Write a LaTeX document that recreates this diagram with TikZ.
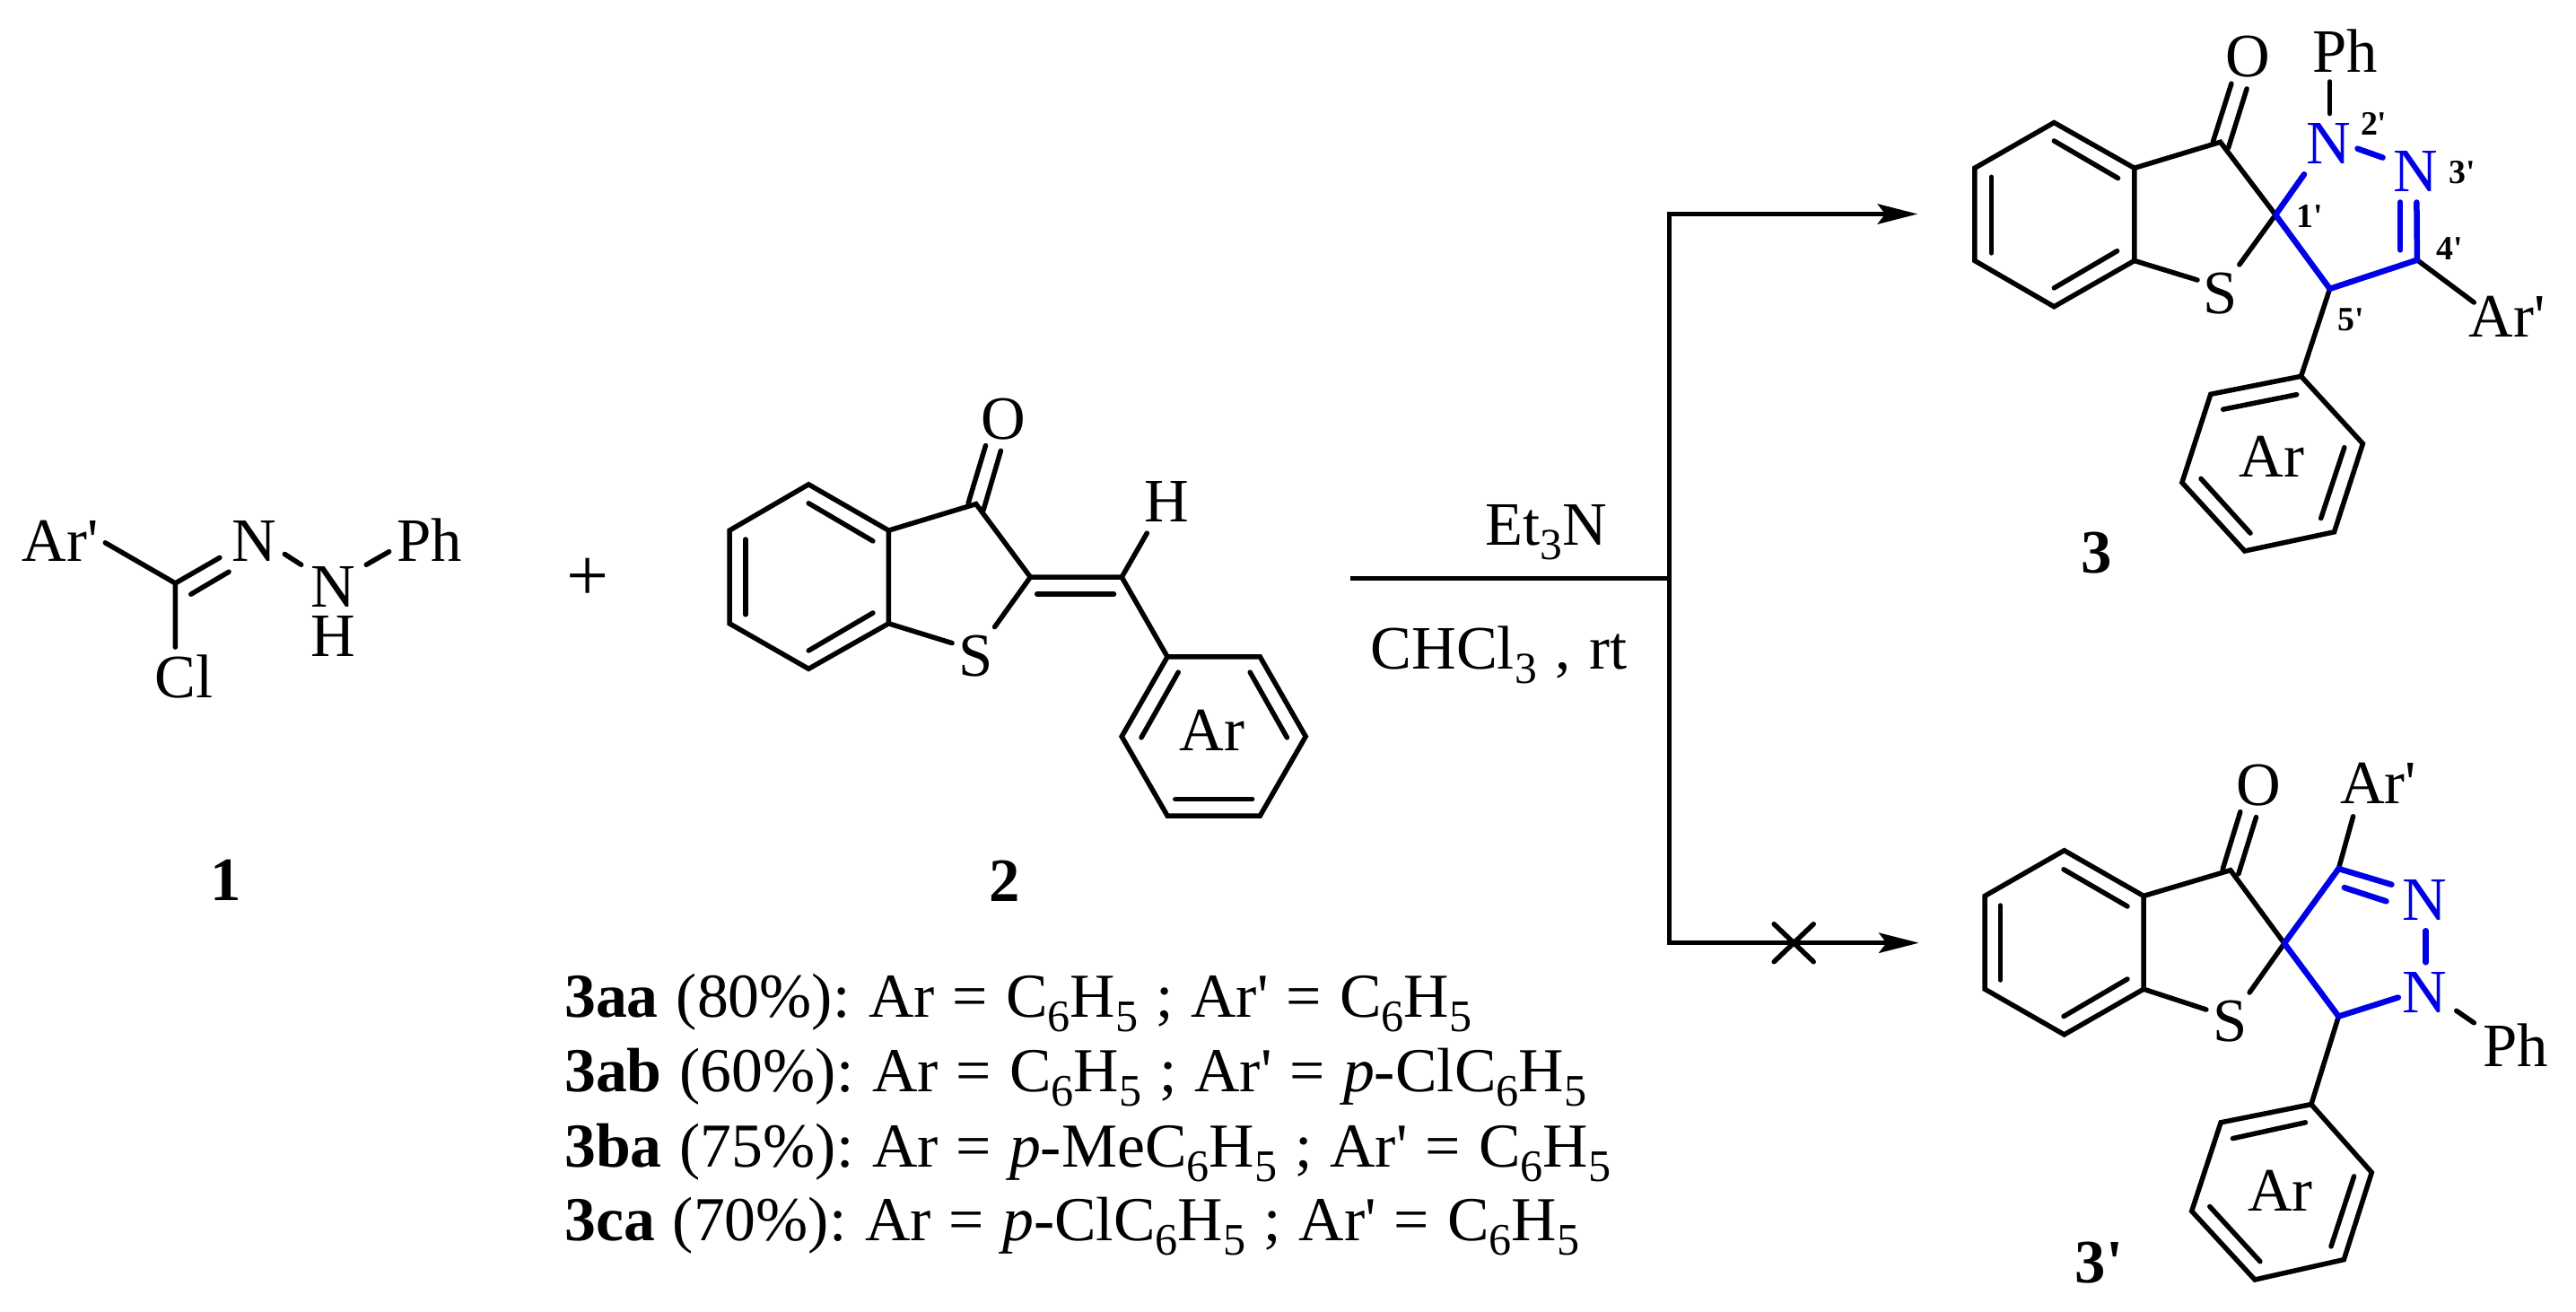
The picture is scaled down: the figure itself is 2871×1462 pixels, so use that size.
\documentclass[tikz,border=0pt]{standalone}
\usepackage{fontspec}
\newfontfamily\lib{Liberation Serif}
\definecolor{bondblue}{HTML}{0000E6}
\newcommand\sbs[1]{\raisebox{-.23em}{\scalebox{.72}{#1}}}
\newcommand\colsp{:\hspace{-5bp} }
\tikzset{
  bond/.style={line width=5.5bp,line cap=round,line join=miter,draw=black},
  bbond/.style={line width=6.5bp,line cap=round,line join=round,draw=bondblue},
  rxn/.style={line width=5bp,line cap=butt,draw=black},
  lab/.style={anchor=base,inner sep=0pt,font=\fontsize{69}{80}\selectfont\lib},
  blab/.style={lab,text=bondblue},
  num/.style={anchor=base,inner sep=0pt,font=\fontsize{38}{42}\selectfont\lib\bfseries},
  cpd/.style={anchor=base,inner sep=0pt,font=\fontsize{69}{80}\selectfont\lib\bfseries},
  lst/.style={anchor=base west,inner sep=0pt,font=\fontsize{70}{80}\selectfont\lib,execute at begin node={\spaceskip=20bp\relax}},
  head/.style={draw=none,fill=black}
}
\begin{document}
\begin{tikzpicture}[x=1bp,y=-1bp]
\useasboundingbox (0,0) rectangle (2871,1462);
% ---------- compound 1
\node[lab] (aArp) at (67.3,625.4) {Ar'};
\node[lab] (aN1) at (283.2,625.4) {N};
\node[lab] (aN2) at (370.9,676) {N};
\node[lab] (aH) at (370.9,731) {H};
\node[lab] (aPh) at (478.6,625.4) {Ph};
\node[lab] (aCl) at (205.1,777.6) {Cl};
\coordinate (aC) at (195.4,649.9);
\coordinate (aA) at (117.3,604.8);
\coordinate (aB) at (195.4,721.1);
\coordinate (aD) at (244.9,621.4);
\coordinate (aE) at (212.8,662.2);
\coordinate (aF) at (255.1,637.2);
\coordinate (aG) at (317.3,617.5);
\coordinate (aI) at (335.7,629.3);
\coordinate (aJ) at (408.2,629.3);
\coordinate (aK) at (433.7,614.7);
\draw[bond] (aA) -- (aC) -- (aB);
\draw[bond] (aC) -- (aD);
\draw[bond] (aE) -- (aF);
\draw[bond] (aG) -- (aI);
\draw[bond] (aJ) -- (aK);
\node[cpd] (cpdA) at (251.5,1003) {1};
\node[anchor=center,inner sep=0pt,font=\fontsize{84}{90}\selectfont\lib] (plus) at (654.6,645.4) {+};
% ---------- compound 2
\coordinate (b1) at (901.2,539.8);
\coordinate (b2) at (813,591.1);
\coordinate (b3) at (813,694.8);
\coordinate (b4) at (901.2,745.3);
\coordinate (b5) at (990.4,694.8);
\coordinate (b6) at (990.4,591.1);
\coordinate (bCO) at (1087.8,561.6);
\coordinate (bC2) at (1148.4,643.1);
\coordinate (bS1) at (1061.1,716.6);
\coordinate (bS2) at (1108.6,698.6);
\coordinate (bCH) at (1250.2,643.1);
\coordinate (bHe) at (1278.3,594.1);
\coordinate (br1) at (1301.1,731.9);
\coordinate (br2) at (1404.3,731.9);
\coordinate (br3) at (1455.2,820.7);
\coordinate (br4) at (1404.3,909.1);
\coordinate (br5) at (1301.1,909.1);
\coordinate (br6) at (1250.2,820.7);
\draw[bond] (b1) -- (b2) -- (b3) -- (b4) -- (b5) -- (b6) -- cycle;
\draw[bond] (b6) -- (bCO) -- (bC2) -- (bS2);
\draw[bond] (b5) -- (bS1);
\draw[bond] (bC2) -- (bCH) -- (bHe);
\draw[bond] (bCH) -- (br1);
\draw[bond] (br1) -- (br2) -- (br3) -- (br4) -- (br5) -- (br6) -- cycle;
\draw[bond] (830.9,601) -- (830.9,684.8);
\draw[bond] (901.2,560.8) -- (972.9,602.9);
\draw[bond] (901.2,725) -- (972.9,683);
\draw[bond] (1079.1,560.8) -- (1098.5,496.5);
\draw[bond] (1096,568.5) -- (1115.4,502.3);
\draw[bond] (1155.7,661.9) -- (1241.5,661.9);
\draw[bond] (1313.2,749.1) -- (1272,821.9);
\draw[bond] (1393.2,749.1) -- (1434.4,821.9);
\draw[bond] (1309.8,890.7) -- (1395.6,890.7);
\node[lab] (bO) at (1118.3,489) {O};
\node[lab] (bS) at (1087.8,753) {S};
\node[lab] (bH) at (1300.1,581) {H};
\node[lab] (bAr) at (1351,836) {Ar};
\node[cpd] (cpdB) at (1119.3,1004) {2};
% ---------- reaction arrows
\coordinate (rS) at (1504.6,644.9);
\coordinate (rJ) at (1860.4,644.9);
\coordinate (rT) at (1860.4,238.5);
\coordinate (rB) at (1860.4,1050.7);
\coordinate (rTe) at (2137.1,238.5);
\coordinate (rBe) at (2138.5,1050.7);
\draw[rxn] (rS) -- (rJ);
\draw[rxn,line join=miter] (rTe) ++(-25,0) -- (rT) -- (rB) -- ++(255,0);
\fill[head] (rTe) -- ++(-45,-11.5) -- ++(9,11.5) -- ++(-9,11.5) -- cycle;
\fill[head] (rBe) -- ++(-45,-11.5) -- ++(9,11.5) -- ++(-9,11.5) -- cycle;
\coordinate (xC) at (1999.2,1050.7);
\draw[bond] (xC) ++(-22,-21) -- ++(44,42);
\draw[bond] (xC) ++(22,-21) -- ++(-44,42);
\node[lab] (et) at (1723.3,607.6) {Et\sbs{3}N};
\node[lab] (chcl) at (1670.8,745.3) {\spaceskip=21bp\relax CHCl\sbs{3} , rt};
% ---------- list
\node[lst] (l1) at (629,1133) {\textbf{3aa} (80\%)\colsp Ar = C\sbs{6}H\sbs{5} ; Ar' = C\sbs{6}H\sbs{5}};
\node[lst] (l2) at (629,1216.7) {\textbf{3ab} (60\%)\colsp Ar = C\sbs{6}H\sbs{5} ; Ar' = \textit{p}-ClC\sbs{6}H\sbs{5}};
\node[lst] (l3) at (629,1300) {\textbf{3ba} (75\%)\colsp Ar = \textit{p}-MeC\sbs{6}H\sbs{5} ; Ar' = C\sbs{6}H\sbs{5}};
\node[lst] (l4) at (629,1382.7) {\textbf{3ca} (70\%)\colsp Ar = \textit{p}-ClC\sbs{6}H\sbs{5} ; Ar' = C\sbs{6}H\sbs{5}};
% ---------- compound 3
\coordinate (c1) at (2289.3,136.6);
\coordinate (c2) at (2200.8,187.3);
\coordinate (c3) at (2200.8,290.5);
\coordinate (c4) at (2289.3,341.7);
\coordinate (c5) at (2378.8,290.5);
\coordinate (c6) at (2378.8,187.3);
\coordinate (cCO) at (2474.6,158.3);
\coordinate (cSp) at (2536.1,239.4);
\coordinate (cS1) at (2449,312);
\coordinate (cS2) at (2495.8,294.9);
\coordinate (cN2) at (2568,194.3);
\coordinate (cC4) at (2693.9,289.7);
\coordinate (cC5) at (2596.6,321.8);
\coordinate (cAe) at (2757.3,337);
\coordinate (cr1) at (2564.6,419.3);
\coordinate (cr2) at (2463.8,439.3);
\coordinate (cr3) at (2431.9,537.7);
\coordinate (cr4) at (2501.7,614);
\coordinate (cr5) at (2601.5,592.8);
\coordinate (cr6) at (2633.4,494.4);
\draw[bond] (c1) -- (c2) -- (c3) -- (c4) -- (c5) -- (c6) -- cycle;
\draw[bond] (c6) -- (cCO) -- (cSp) -- (cS2);
\draw[bond] (c5) -- (cS1);
\draw[bond] (2219.5,197.3) -- (2219.5,281.9);
\draw[bond] (2289.3,157) -- (2360.6,198.6);
\draw[bond] (2289.3,320.9) -- (2359.6,279.7);
\draw[bond] (2466.3,158.3) -- (2486.9,93.2);
\draw[bond] (2483.5,164.8) -- (2504.1,98.9);
\draw[bond] (2596.6,91) -- (2596.6,126.6);
\draw[bond] (cC4) -- (cAe);
\draw[bond] (cC5) -- (cr1);
\draw[bond] (cr1) -- (cr2) -- (cr3) -- (cr4) -- (cr5) -- (cr6) -- cycle;
\draw[bond] (2477.6,456.2) -- (2559.7,439.7);
\draw[bond] (2612.8,498.7) -- (2586.7,577.6);
\draw[bond] (2508,594.1) -- (2453,533.4);
\draw[bbond] (cN2) -- (cSp) -- (cC5) -- (cC4) -- (2693.4,225.5);
\draw[bbond] (2675.2,225.5) -- (2675.2,278.4);
\draw[bbond] (2627.5,165.7) -- (2655.6,175.6);
\node[lab] (cO) at (2505.6,86) {O};
\node[lab] (cPh) at (2613.8,80.2) {Ph};
\node[blab] (cNa) at (2595.6,182.5) {N};
\node[blab] (cNb) at (2692.4,213.3) {N};
\node[lab] (cS) at (2474.6,349) {S};
\node[lab] (cArp) at (2794,375) {Ar'};
\node[lab] (cAr) at (2531.7,531) {Ar};
\node[cpd] (cpdC) at (2337,638.3) {3};
\node[num] (n1) at (2574.4,253.7) {1'};
\node[num] (n2) at (2645.7,151) {2'};
\node[num] (n3) at (2744,204.7) {3'};
\node[num] (n4) at (2730.3,289.7) {4'};
\node[num] (n5) at (2620.2,368.6) {5'};
% ---------- compound 3'
\coordinate (d1) at (2300.6,947.7);
\coordinate (d2) at (2212.1,998.4);
\coordinate (d3) at (2212.1,1102.2);
\coordinate (d4) at (2300.6,1152.9);
\coordinate (d5) at (2389.1,1102.2);
\coordinate (d6) at (2389.1,998.4);
\coordinate (dCO) at (2485.9,969.7);
\coordinate (dSp) at (2545.9,1051.2);
\coordinate (dS1) at (2458.9,1125);
\coordinate (dS2) at (2507.1,1106);
\coordinate (dC4) at (2606.4,968);
\coordinate (dC5) at (2606.4,1132.6);
\coordinate (dNe) at (2672.8,1111.5);
\coordinate (dAe) at (2622.6,909.8);
\coordinate (dr1) at (2575.9,1230.6);
\coordinate (dr2) at (2475.1,1250.8);
\coordinate (dr3) at (2442.7,1349.6);
\coordinate (dr4) at (2513,1426);
\coordinate (dr5) at (2612.3,1403.6);
\coordinate (dr6) at (2643.3,1306.5);
\draw[bond] (d1) -- (d2) -- (d3) -- (d4) -- (d5) -- (d6) -- cycle;
\draw[bond] (d6) -- (dCO) -- (dSp) -- (dS2);
\draw[bond] (d5) -- (dS1);
\draw[bond] (2229.3,1009) -- (2229.3,1092);
\draw[bond] (2300,968.8) -- (2371,1010);
\draw[bond] (2300,1132.6) -- (2371,1091);
\draw[bond] (2477.1,968.9) -- (2496.8,904.7);
\draw[bond] (2494.8,973.9) -- (2514.5,910.6);
\draw[bond] (dC4) -- (dAe);
\draw[bond] (2737.7,1126.3) -- (2757.3,1139.8);
\draw[bond] (dC5) -- (dr1);
\draw[bond] (dr1) -- (dr2) -- (dr3) -- (dr4) -- (dr5) -- (dr6) -- cycle;
\draw[bond] (2488.4,1268.6) -- (2569.5,1250.8);
\draw[bond] (2623.6,1310.8) -- (2598,1388.9);
\draw[bond] (2518.9,1405.7) -- (2462.8,1344.5);
\draw[bbond] (2665.4,985.7) -- (dC4) -- (dSp) -- (dC5) -- (dNe);
\draw[bbond] (2612.8,989.1) -- (2659.5,1004.3);
\draw[bbond] (2703.7,1037.2) -- (2703.7,1072.3);
\node[lab] (dO) at (2516.9,897) {O};
\node[lab] (dArp) at (2650.6,895) {Ar'};
\node[blab] (dNa) at (2702.3,1025.5) {N};
\node[blab] (dNb) at (2702.3,1128) {N};
\node[lab] (dPh) at (2804,1188) {Ph};
\node[lab] (dS) at (2485.9,1160) {S};
\node[lab] (dAr) at (2541.5,1349) {Ar};
\node[cpd] (cpdD) at (2339.4,1429) {3'};
\end{tikzpicture}
\end{document}
